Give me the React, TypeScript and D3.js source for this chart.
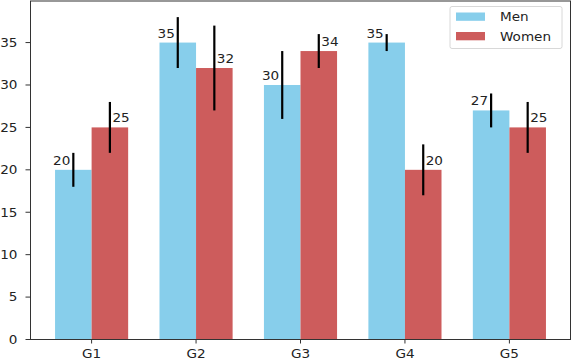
import React from 'react';
import * as d3 from 'd3';

const groups = ['G1', 'G2', 'G3', 'G4', 'G5'];
const menValues = [20, 35, 30, 35, 27];
const menErrors = [2, 3, 4, 1, 2];
const womenValues = [25, 32, 34, 20, 25];
const womenErrors = [3, 5, 2, 3, 3];
const yTicks = [0, 5, 10, 15, 20, 25, 30, 35];

const series = [
  { name: 'Men', values: menValues, errors: menErrors, color: '#87CEEB', offset: -1, anchor: 'end' },
  { name: 'Women', values: womenValues, errors: womenErrors, color: '#CD5C5C', offset: 1, anchor: 'start' },
];

// the reference text is a bit wider than plain DejaVu, stretch it a little
const SX = 1.13;

const Label: React.FC<{ x: number; y: number; anchor?: string; size?: number; children: React.ReactNode }> = ({
  x,
  y,
  anchor = 'start',
  size = 12,
  children,
}) => (
  <text
    transform={`translate(${x},${y}) scale(${SX},1)`}
    textAnchor={anchor as 'start' | 'middle' | 'end'}
    fontSize={size}
    fill="#222"
  >
    {children}
  </text>
);

const App: React.FC = () => {
  const width = 578;
  const height = 362;
  const margin = { top: 1, right: 7.5, bottom: 22.5, left: 30.5 };
  const barW = 0.35;

  const yMax = d3.max(series.flatMap((s) => s.values.map((v, i) => v + s.errors[i]))) as number;

  const x = d3
    .scaleLinear()
    .domain([-0.585, groups.length - 1 + 0.585])
    .range([margin.left, width - margin.right]);

  const y = d3
    .scaleLinear()
    .domain([0, yMax * 1.05])
    .range([height - margin.bottom, margin.top]);

  const px = x(barW) - x(0);

  return (
    <svg
      width={width}
      height={height}
      style={{ position: 'absolute', left: 0, top: 0, background: '#fff' }}
      fontFamily="DejaVu Sans, sans-serif"
    >
      {series.map((s) =>
        s.values.map((v, i) => {
          const cx = x(i + (s.offset * barW) / 2);
          return (
            <g key={s.name + i}>
              <rect x={cx - px / 2} y={y(v)} width={px} height={y(0) - y(v)} fill={s.color} />
              <line
                x1={cx}
                x2={cx}
                y1={y(v + s.errors[i])}
                y2={y(v - s.errors[i])}
                stroke="#000"
                strokeWidth={2.2}
              />
              <Label x={cx + (s.offset < 0 ? -3 : 2.5)} y={y(v) - 5} anchor={s.anchor}>
                {v}
              </Label>
            </g>
          );
        })
      )}

      {/* axes frame */}
      <rect
        x={margin.left}
        y={margin.top}
        width={width - margin.left - margin.right}
        height={height - margin.top - margin.bottom}
        fill="none"
        stroke="#333"
        strokeWidth={1}
      />

      {yTicks.map((t) => (
        <g key={'y' + t} transform={`translate(${margin.left},${y(t)})`}>
          <line x1={-5} x2={0} stroke="#333" />
          <Label x={-13} y={4.3} anchor="end">
            {t}
          </Label>
        </g>
      ))}

      {groups.map((g, i) => (
        <g key={g} transform={`translate(${x(i)},${height - margin.bottom})`}>
          <line y1={0} y2={4} stroke="#333" />
          <Label x={0} y={18} anchor="middle">
            {g}
          </Label>
        </g>
      ))}

      {/* legend */}
      <g transform="translate(450,6.5)">
        <rect width={112} height={42} rx={2} fill="#fff" fillOpacity={0.8} stroke="#d8d8d8" />
        {series.map((s, i) => (
          <g key={s.name} transform={`translate(0,${i * 19.5})`}>
            <rect x={6} y={6} width={29} height={8.3} fill={s.color} />
            <Label x={50} y={14.5}>
              {s.name}
            </Label>
          </g>
        ))}
      </g>
    </svg>
  );
};

export default App;
